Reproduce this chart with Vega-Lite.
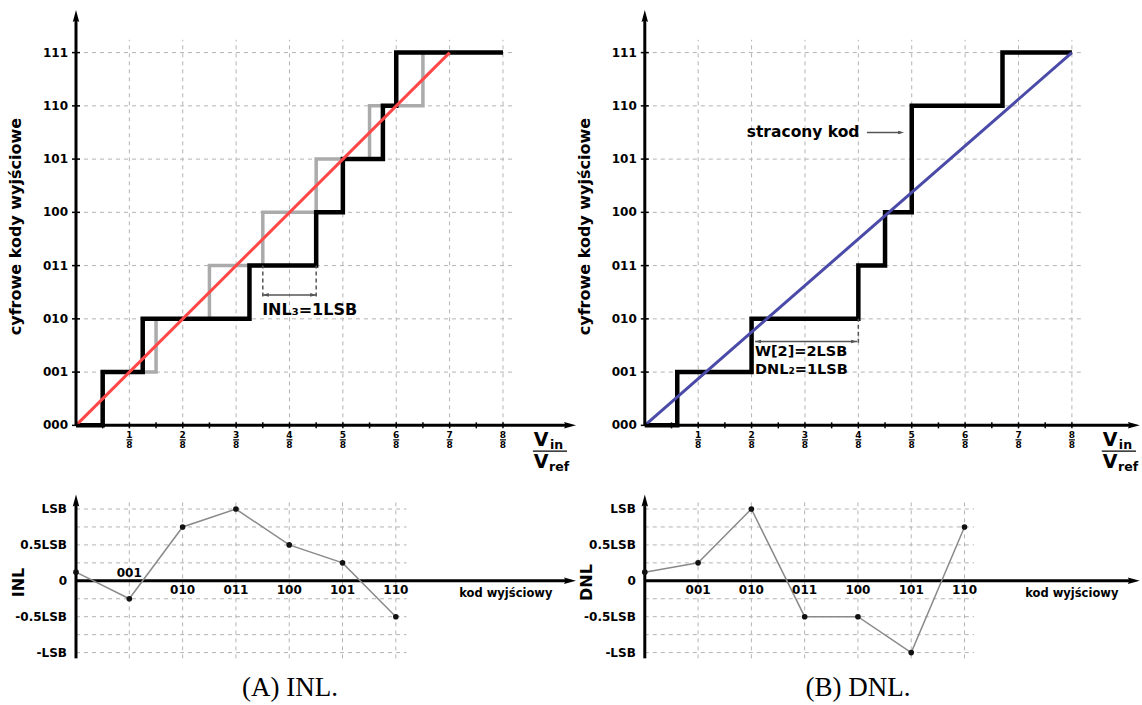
{
"$schema": "https://vega.github.io/schema/vega-lite/v6.json",
"padding": {"left": 8, "top": 9, "right": 0, "bottom": 0},
"background": "white",
"config": {"view": {"stroke": null}, "axis": {"disable": true}, "text": {"font": "DejaVu Sans", "fontWeight": "bold", "color": "#000"}},
"datasets": {
 "codes": [{"c":0,"label":"000"},{"c":1,"label":"001"},{"c":2,"label":"010"},{"c":3,"label":"011"},{"c":4,"label":"100"},{"c":5,"label":"101"},{"c":6,"label":"110"},{"c":7,"label":"111"}],
 "fractions": [{"v":0.125,"num":"1","den":"8"},{"v":0.25,"num":"2","den":"8"},{"v":0.375,"num":"3","den":"8"},{"v":0.5,"num":"4","den":"8"},{"v":0.625,"num":"5","den":"8"},{"v":0.75,"num":"6","den":"8"},{"v":0.875,"num":"7","den":"8"},{"v":1.0,"num":"8","den":"8"}],
 "sixteenths": [{"v":0.0625},{"v":0.125},{"v":0.1875},{"v":0.25},{"v":0.3125},{"v":0.375},{"v":0.4375},{"v":0.5},{"v":0.5625},{"v":0.625},{"v":0.6875},{"v":0.75},{"v":0.8125},{"v":0.875},{"v":0.9375},{"v":1.0}],
 "tl_ideal": [{"v":0,"c":0},{"v":0.0625,"c":1},{"v":0.1875,"c":2},{"v":0.3125,"c":3},{"v":0.4375,"c":4},{"v":0.5625,"c":5},{"v":0.6875,"c":6},{"v":0.8125,"c":7},{"v":0.875,"c":7}],
 "tl_actual": [{"v":0,"c":0},{"v":0.0625,"c":1},{"v":0.15625,"c":2},{"v":0.40625,"c":3},{"v":0.5625,"c":4},{"v":0.625,"c":5},{"v":0.71875,"c":6},{"v":0.75,"c":7},{"v":1.0,"c":7}],
 "tl_fit": [{"v":0,"c":0},{"v":0.875,"c":7}],
 "tr_actual": [{"v":0,"c":0},{"v":0.076,"c":1},{"v":0.25,"c":2},{"v":0.5,"c":3},{"v":0.5625,"c":4},{"v":0.625,"c":6},{"v":0.8375,"c":7},{"v":1.0,"c":7}],
 "tr_fit": [{"v":0,"c":0},{"v":1.0,"c":7}],
 "inl": [{"k":0,"code":"000","val":0.12},{"k":1,"code":"001","val":-0.25},{"k":2,"code":"010","val":0.75},{"k":3,"code":"011","val":1.0},{"k":4,"code":"100","val":0.5},{"k":5,"code":"101","val":0.25},{"k":6,"code":"110","val":-0.5}],
 "dnl": [{"k":0,"code":"000","val":0.12},{"k":1,"code":"001","val":0.25},{"k":2,"code":"010","val":1.0},{"k":3,"code":"011","val":-0.5},{"k":4,"code":"100","val":-0.5},{"k":5,"code":"101","val":-1.0},{"k":6,"code":"110","val":0.75}],
 "lsb_ticks": [{"e":1,"label":"LSB"},{"e":0.5,"label":"0.5LSB"},{"e":0,"label":"0"},{"e":-0.5,"label":"-0.5LSB"},{"e":-1,"label":"-LSB"}],
 "lsb_grid": [{"e":1},{"e":0.75},{"e":0.5},{"e":0.25},{"e":-0.25},{"e":-0.5},{"e":-0.75},{"e":-1}]
},
"columns": 2,
"bounds": "flush",
"spacing": {"row": 68.65, "column": 68.8},
"concat": [
 {
  "width": 500, "height": 415.35,
  "layer": [
   {"data":{"name":"codes"},"transform":[{"filter":"datum.c > 0"}],"mark":{"type":"rule","color":"#b3b3b3","strokeWidth":1,"strokeDash":[4,4]},
    "encoding":{"x":{"datum":0,"type":"quantitative","scale":{"domain":[0,1.171],"nice":false,"zero":false}},"x2":{"datum":1.03},"y":{"field":"c","type":"quantitative","scale":{"domain":[0,7.8],"nice":false,"zero":false}}}},
   {"data":{"name":"fractions"},"mark":{"type":"rule","color":"#b3b3b3","strokeWidth":1,"strokeDash":[4,4]},
    "encoding":{"x":{"field":"v","type":"quantitative"},"y":{"datum":0,"type":"quantitative"},"y2":{"datum":7.24}}},
   {"data":{"name":"tl_ideal"},"mark":{"type":"line","interpolate":"step-after","color":"#ababab","strokeWidth":3.5},
    "encoding":{"x":{"field":"v","type":"quantitative"},"y":{"field":"c","type":"quantitative"}}},
   {"data":{"name":"tl_actual"},"mark":{"type":"line","interpolate":"step-after","color":"#000","strokeWidth":4.5},
    "encoding":{"x":{"field":"v","type":"quantitative"},"y":{"field":"c","type":"quantitative"}}},
   {"data":{"name":"tl_fit"},"mark":{"type":"line","color":"#ff4747","strokeWidth":3},
    "encoding":{"x":{"field":"v","type":"quantitative"},"y":{"field":"c","type":"quantitative"}}},
   {"data":{"values":[{}]},"mark":{"type":"rule","color":"#000","strokeWidth":3},
    "encoding":{"x":{"datum":0,"type":"quantitative"},"y":{"datum":0,"type":"quantitative"},"y2":{"datum":7.65}}},
   {"data":{"values":[{}]},"mark":{"type":"rule","color":"#000","strokeWidth":3},
    "encoding":{"y":{"datum":0,"type":"quantitative"},"x":{"datum":0,"type":"quantitative"},"x2":{"datum":1.15}}},
   {"data":{"values":[{}]},"mark":{"type":"point","shape":"M0,-1L0.35,0.3L0,0.12L-0.35,0.3Z","size":340,"filled":true,"color":"#000","opacity":1},
    "encoding":{"x":{"datum":0,"type":"quantitative"},"y":{"datum":7.627,"type":"quantitative"}}},
   {"data":{"values":[{}]},"mark":{"type":"point","shape":"M1,0L-0.3,0.35L-0.12,0L-0.3,-0.35Z","size":340,"filled":true,"color":"#000","opacity":1},
    "encoding":{"x":{"datum":1.1495,"type":"quantitative"},"y":{"datum":0,"type":"quantitative"}}},
   {"data":{"name":"codes"},"mark":{"type":"tick","orient":"horizontal","size":8,"thickness":1.5,"color":"#000","opacity":1},
    "encoding":{"x":{"datum":0,"type":"quantitative"},"y":{"field":"c","type":"quantitative"}}},
   {"data":{"name":"sixteenths"},"mark":{"type":"tick","orient":"vertical","size":6,"thickness":1.5,"color":"#000","opacity":1},
    "encoding":{"x":{"field":"v","type":"quantitative"},"y":{"datum":0,"type":"quantitative"}}},
   {"data":{"name":"codes"},"mark":{"type":"text","align":"right","baseline":"middle","dx":-8,"fontSize":12},
    "encoding":{"x":{"datum":0,"type":"quantitative"},"y":{"field":"c","type":"quantitative"},"text":{"field":"label"}}},
   {"data":{"name":"fractions"},"mark":{"type":"text","align":"center","baseline":"middle","dy":10,"fontSize":9},
    "encoding":{"x":{"field":"v","type":"quantitative"},"y":{"datum":0,"type":"quantitative"},"text":{"field":"num"}}},
   {"data":{"name":"fractions"},"mark":{"type":"text","align":"center","baseline":"middle","dy":20,"fontSize":9},
    "encoding":{"x":{"field":"v","type":"quantitative"},"y":{"datum":0,"type":"quantitative"},"text":{"field":"den"}}},
   {"data":{"name":"fractions"},"mark":{"type":"tick","orient":"horizontal","size":6,"thickness":1.2,"color":"#000","opacity":1},
    "encoding":{"x":{"field":"v","type":"quantitative"},"y":{"datum":-0.2723,"type":"quantitative"}}},
   {"data":{"values":[{"t":"V"}]},"mark":{"type":"text","align":"left","baseline":"alphabetic","fontSize":19},
    "encoding":{"x":{"datum":1.072,"type":"quantitative"},"y":{"datum":-0.379,"type":"quantitative"},"text":{"field":"t"}}},
   {"data":{"values":[{"t":"in"}]},"mark":{"type":"text","align":"left","baseline":"alphabetic","fontSize":12.5},
    "encoding":{"x":{"datum":1.11,"type":"quantitative"},"y":{"datum":-0.436,"type":"quantitative"},"text":{"field":"t"}}},
   {"data":{"values":[{}]},"mark":{"type":"rule","color":"#000","strokeWidth":1.2},
    "encoding":{"y":{"datum":-0.483,"type":"quantitative"},"x":{"datum":1.07,"type":"quantitative"},"x2":{"datum":1.15}}},
   {"data":{"values":[{"t":"V"}]},"mark":{"type":"text","align":"left","baseline":"alphabetic","fontSize":19},
    "encoding":{"x":{"datum":1.072,"type":"quantitative"},"y":{"datum":-0.792,"type":"quantitative"},"text":{"field":"t"}}},
   {"data":{"values":[{"t":"ref"}]},"mark":{"type":"text","align":"left","baseline":"alphabetic","fontSize":12.5},
    "encoding":{"x":{"datum":1.108,"type":"quantitative"},"y":{"datum":-0.848,"type":"quantitative"},"text":{"field":"t"}}},
   {"data":{"values":[{"v":0.4375},{"v":0.5625}]},"mark":{"type":"rule","color":"#555","strokeWidth":1.5,"strokeDash":[4,3]},
    "encoding":{"x":{"field":"v","type":"quantitative"},"y":{"datum":2.42,"type":"quantitative"},"y2":{"datum":3}}},
   {"data":{"values":[{}]},"mark":{"type":"rule","color":"#555","strokeWidth":1.5},
    "encoding":{"y":{"datum":2.45,"type":"quantitative"},"x":{"datum":0.4375,"type":"quantitative"},"x2":{"datum":0.5625}}},
   {"data":{"values":[{}]},"mark":{"type":"point","shape":"M-1,0L1,0.6L1,-0.6Z","size":36,"filled":true,"color":"#555","opacity":1},
    "encoding":{"x":{"datum":0.4445,"type":"quantitative"},"y":{"datum":2.45,"type":"quantitative"}}},
   {"data":{"values":[{}]},"mark":{"type":"point","shape":"M1,0L-1,0.6L-1,-0.6Z","size":36,"filled":true,"color":"#555","opacity":1},
    "encoding":{"x":{"datum":0.5555,"type":"quantitative"},"y":{"datum":2.45,"type":"quantitative"}}},
   {"data":{"values":[{"t":"INL₃=1LSB"}]},"mark":{"type":"text","align":"left","baseline":"alphabetic","fontSize":16},
    "encoding":{"x":{"datum":0.436,"type":"quantitative"},"y":{"datum":2.08,"type":"quantitative"},"text":{"field":"t"}}},
   {"data":{"values":[{"t":"cyfrowe kody wyjściowe"}]},"mark":{"type":"text","angle":270,"align":"center","baseline":"middle","fontSize":16},
    "encoding":{"x":{"datum":-0.1405,"type":"quantitative"},"y":{"datum":3.733,"type":"quantitative"},"text":{"field":"t"}}}
  ]
 },
 {
  "width": 495, "height": 415.35,
  "layer": [
   {"data":{"name":"codes"},"transform":[{"filter":"datum.c > 0"}],"mark":{"type":"rule","color":"#b3b3b3","strokeWidth":1,"strokeDash":[4,4]},
    "encoding":{"x":{"datum":0,"type":"quantitative","scale":{"domain":[0,1.159],"nice":false,"zero":false}},"x2":{"datum":1.03},"y":{"field":"c","type":"quantitative","scale":{"domain":[0,7.8],"nice":false,"zero":false}}}},
   {"data":{"name":"fractions"},"mark":{"type":"rule","color":"#b3b3b3","strokeWidth":1,"strokeDash":[4,4]},
    "encoding":{"x":{"field":"v","type":"quantitative"},"y":{"datum":0,"type":"quantitative"},"y2":{"datum":7.24}}},
   {"data":{"name":"tr_actual"},"mark":{"type":"line","interpolate":"step-after","color":"#000","strokeWidth":4.5},
    "encoding":{"x":{"field":"v","type":"quantitative"},"y":{"field":"c","type":"quantitative"}}},
   {"data":{"name":"tr_fit"},"mark":{"type":"line","color":"#4a4aa8","strokeWidth":3},
    "encoding":{"x":{"field":"v","type":"quantitative"},"y":{"field":"c","type":"quantitative"}}},
   {"data":{"values":[{}]},"mark":{"type":"rule","color":"#000","strokeWidth":3},
    "encoding":{"x":{"datum":0,"type":"quantitative"},"y":{"datum":0,"type":"quantitative"},"y2":{"datum":7.65}}},
   {"data":{"values":[{}]},"mark":{"type":"rule","color":"#000","strokeWidth":3},
    "encoding":{"y":{"datum":0,"type":"quantitative"},"x":{"datum":0,"type":"quantitative"},"x2":{"datum":1.138}}},
   {"data":{"values":[{}]},"mark":{"type":"point","shape":"M0,-1L0.35,0.3L0,0.12L-0.35,0.3Z","size":340,"filled":true,"color":"#000","opacity":1},
    "encoding":{"x":{"datum":0,"type":"quantitative"},"y":{"datum":7.627,"type":"quantitative"}}},
   {"data":{"values":[{}]},"mark":{"type":"point","shape":"M1,0L-0.3,0.35L-0.12,0L-0.3,-0.35Z","size":340,"filled":true,"color":"#000","opacity":1},
    "encoding":{"x":{"datum":1.1375,"type":"quantitative"},"y":{"datum":0,"type":"quantitative"}}},
   {"data":{"name":"codes"},"mark":{"type":"tick","orient":"horizontal","size":8,"thickness":1.5,"color":"#000","opacity":1},
    "encoding":{"x":{"datum":0,"type":"quantitative"},"y":{"field":"c","type":"quantitative"}}},
   {"data":{"name":"sixteenths"},"mark":{"type":"tick","orient":"vertical","size":6,"thickness":1.5,"color":"#000","opacity":1},
    "encoding":{"x":{"field":"v","type":"quantitative"},"y":{"datum":0,"type":"quantitative"}}},
   {"data":{"name":"codes"},"mark":{"type":"text","align":"right","baseline":"middle","dx":-8,"fontSize":12},
    "encoding":{"x":{"datum":0,"type":"quantitative"},"y":{"field":"c","type":"quantitative"},"text":{"field":"label"}}},
   {"data":{"name":"fractions"},"mark":{"type":"text","align":"center","baseline":"middle","dy":10,"fontSize":9},
    "encoding":{"x":{"field":"v","type":"quantitative"},"y":{"datum":0,"type":"quantitative"},"text":{"field":"num"}}},
   {"data":{"name":"fractions"},"mark":{"type":"text","align":"center","baseline":"middle","dy":20,"fontSize":9},
    "encoding":{"x":{"field":"v","type":"quantitative"},"y":{"datum":0,"type":"quantitative"},"text":{"field":"den"}}},
   {"data":{"name":"fractions"},"mark":{"type":"tick","orient":"horizontal","size":6,"thickness":1.2,"color":"#000","opacity":1},
    "encoding":{"x":{"field":"v","type":"quantitative"},"y":{"datum":-0.2723,"type":"quantitative"}}},
   {"data":{"values":[{"t":"V"}]},"mark":{"type":"text","align":"left","baseline":"alphabetic","fontSize":19},
    "encoding":{"x":{"datum":1.072,"type":"quantitative"},"y":{"datum":-0.379,"type":"quantitative"},"text":{"field":"t"}}},
   {"data":{"values":[{"t":"in"}]},"mark":{"type":"text","align":"left","baseline":"alphabetic","fontSize":12.5},
    "encoding":{"x":{"datum":1.11,"type":"quantitative"},"y":{"datum":-0.436,"type":"quantitative"},"text":{"field":"t"}}},
   {"data":{"values":[{}]},"mark":{"type":"rule","color":"#000","strokeWidth":1.2},
    "encoding":{"y":{"datum":-0.483,"type":"quantitative"},"x":{"datum":1.07,"type":"quantitative"},"x2":{"datum":1.15}}},
   {"data":{"values":[{"t":"V"}]},"mark":{"type":"text","align":"left","baseline":"alphabetic","fontSize":19},
    "encoding":{"x":{"datum":1.072,"type":"quantitative"},"y":{"datum":-0.792,"type":"quantitative"},"text":{"field":"t"}}},
   {"data":{"values":[{"t":"ref"}]},"mark":{"type":"text","align":"left","baseline":"alphabetic","fontSize":12.5},
    "encoding":{"x":{"datum":1.108,"type":"quantitative"},"y":{"datum":-0.848,"type":"quantitative"},"text":{"field":"t"}}},
   {"data":{"values":[{}]},"mark":{"type":"rule","color":"#555","strokeWidth":1.5,"strokeDash":[4,3]},
    "encoding":{"x":{"datum":0.5,"type":"quantitative"},"y":{"datum":1.55,"type":"quantitative"},"y2":{"datum":2}}},
   {"data":{"values":[{}]},"mark":{"type":"rule","color":"#555","strokeWidth":1.5},
    "encoding":{"y":{"datum":1.574,"type":"quantitative"},"x":{"datum":0.258,"type":"quantitative"},"x2":{"datum":0.497}}},
   {"data":{"values":[{}]},"mark":{"type":"point","shape":"M-1,0L1,0.6L1,-0.6Z","size":36,"filled":true,"color":"#555","opacity":1},
    "encoding":{"x":{"datum":0.265,"type":"quantitative"},"y":{"datum":1.574,"type":"quantitative"}}},
   {"data":{"values":[{}]},"mark":{"type":"point","shape":"M1,0L-1,0.6L-1,-0.6Z","size":36,"filled":true,"color":"#555","opacity":1},
    "encoding":{"x":{"datum":0.49,"type":"quantitative"},"y":{"datum":1.574,"type":"quantitative"}}},
   {"data":{"values":[{"t":"W[2]=2LSB"}]},"mark":{"type":"text","align":"left","baseline":"alphabetic","fontSize":14.5},
    "encoding":{"x":{"datum":0.258,"type":"quantitative"},"y":{"datum":1.301,"type":"quantitative"},"text":{"field":"t"}}},
   {"data":{"values":[{"t":"DNL₂=1LSB"}]},"mark":{"type":"text","align":"left","baseline":"alphabetic","fontSize":14.5},
    "encoding":{"x":{"datum":0.258,"type":"quantitative"},"y":{"datum":0.96,"type":"quantitative"},"text":{"field":"t"}}},
   {"data":{"values":[{"t":"stracony kod"}]},"mark":{"type":"text","align":"left","baseline":"alphabetic","fontSize":15.5},
    "encoding":{"x":{"datum":0.2386,"type":"quantitative"},"y":{"datum":5.41,"type":"quantitative"},"text":{"field":"t"}}},
   {"data":{"values":[{}]},"mark":{"type":"rule","color":"#555","strokeWidth":1.5},
    "encoding":{"y":{"datum":5.499,"type":"quantitative"},"x":{"datum":0.52,"type":"quantitative"},"x2":{"datum":0.6}}},
   {"data":{"values":[{}]},"mark":{"type":"point","shape":"M1,0L-1,0.6L-1,-0.6Z","size":36,"filled":true,"color":"#555","opacity":1},
    "encoding":{"x":{"datum":0.6,"type":"quantitative"},"y":{"datum":5.499,"type":"quantitative"}}},
   {"data":{"values":[{"t":"cyfrowe kody wyjściowe"}]},"mark":{"type":"text","angle":270,"align":"center","baseline":"middle","fontSize":16},
    "encoding":{"x":{"datum":-0.1405,"type":"quantitative"},"y":{"datum":3.733,"type":"quantitative"},"text":{"field":"t"}}}
  ]
 },
 {
  "width": 500, "height": 163.7,
  "layer": [
   {"data":{"name":"lsb_grid"},"mark":{"type":"rule","color":"#b3b3b3","strokeWidth":1,"strokeDash":[4,4]},
    "encoding":{"x":{"datum":0,"type":"quantitative","scale":{"domain":[0,9.38],"nice":false,"zero":false}},"x2":{"datum":6.2},"y":{"field":"e","type":"quantitative","scale":{"domain":[-1.08,1.2],"nice":false,"zero":false}}}},
   {"data":{"name":"inl"},"transform":[{"filter":"datum.k > 0"}],"mark":{"type":"rule","color":"#b3b3b3","strokeWidth":1,"strokeDash":[4,4]},
    "encoding":{"x":{"field":"k","type":"quantitative"},"y":{"datum":-1.08,"type":"quantitative"},"y2":{"datum":1.1}}},
   {"data":{"values":[{}]},"mark":{"type":"rule","color":"#000","strokeWidth":3},
    "encoding":{"x":{"datum":0,"type":"quantitative"},"y":{"datum":-1.08,"type":"quantitative"},"y2":{"datum":1.09}}},
   {"data":{"values":[{}]},"mark":{"type":"rule","color":"#000","strokeWidth":3},
    "encoding":{"y":{"datum":0,"type":"quantitative"},"x":{"datum":0,"type":"quantitative"},"x2":{"datum":9.2}}},
   {"data":{"values":[{}]},"mark":{"type":"point","shape":"M0,-1L0.35,0.3L0,0.12L-0.35,0.3Z","size":340,"filled":true,"color":"#000","opacity":1},
    "encoding":{"x":{"datum":0,"type":"quantitative"},"y":{"datum":1.072,"type":"quantitative"}}},
   {"data":{"values":[{}]},"mark":{"type":"point","shape":"M1,0L-0.3,0.35L-0.12,0L-0.3,-0.35Z","size":340,"filled":true,"color":"#000","opacity":1},
    "encoding":{"x":{"datum":9.207,"type":"quantitative"},"y":{"datum":0,"type":"quantitative"}}},
   {"data":{"name":"lsb_ticks"},"mark":{"type":"text","align":"right","baseline":"middle","dx":-9,"fontSize":12},
    "encoding":{"x":{"datum":0,"type":"quantitative"},"y":{"field":"e","type":"quantitative"},"text":{"field":"label"}}},
   {"data":{"name":"inl"},"mark":{"type":"line","color":"#8a8a8a","strokeWidth":1.5},
    "encoding":{"x":{"field":"k","type":"quantitative"},"y":{"field":"val","type":"quantitative"}}},
   {"data":{"name":"inl"},"mark":{"type":"point","filled":true,"size":32,"color":"#111","opacity":1},
    "encoding":{"x":{"field":"k","type":"quantitative"},"y":{"field":"val","type":"quantitative"}}},
   {"data":{"name":"inl"},"transform":[{"filter":"datum.k == 1"}],"mark":{"type":"text","align":"center","baseline":"alphabetic","dy":-4,"fontSize":12},
    "encoding":{"x":{"field":"k","type":"quantitative"},"y":{"datum":0,"type":"quantitative"},"text":{"field":"code"}}},
   {"data":{"name":"inl"},"transform":[{"filter":"datum.k > 1"}],"mark":{"type":"text","align":"center","baseline":"alphabetic","dy":13.5,"fontSize":12},
    "encoding":{"x":{"field":"k","type":"quantitative"},"y":{"datum":0,"type":"quantitative"},"text":{"field":"code"}}},
   {"data":{"values":[{"t":"kod wyjściowy"}]},"mark":{"type":"text","align":"left","baseline":"alphabetic","fontSize":11.5},
    "encoding":{"x":{"datum":7.19,"type":"quantitative"},"y":{"datum":-0.22,"type":"quantitative"},"text":{"field":"t"}}},
   {"data":{"values":[{"t":"INL"}]},"mark":{"type":"text","angle":270,"align":"center","baseline":"middle","fontSize":16},
    "encoding":{"x":{"datum":-1.064,"type":"quantitative"},"y":{"datum":-0.024,"type":"quantitative"},"text":{"field":"t"}}},
   {"data":{"values":[{"t":"(A) INL."}]},"mark":{"type":"text","align":"center","baseline":"alphabetic","fontSize":27,"font":"Liberation Serif","fontWeight":"normal"},
    "encoding":{"x":{"datum":4.015,"type":"quantitative"},"y":{"datum":-1.611,"type":"quantitative"},"text":{"field":"t"}}}
  ]
 },
 {
  "width": 495, "height": 163.7,
  "layer": [
   {"data":{"name":"lsb_grid"},"mark":{"type":"rule","color":"#b3b3b3","strokeWidth":1,"strokeDash":[4,4]},
    "encoding":{"x":{"datum":0,"type":"quantitative","scale":{"domain":[0,9.29],"nice":false,"zero":false}},"x2":{"datum":6.18},"y":{"field":"e","type":"quantitative","scale":{"domain":[-1.08,1.2],"nice":false,"zero":false}}}},
   {"data":{"name":"dnl"},"transform":[{"filter":"datum.k > 0"}],"mark":{"type":"rule","color":"#b3b3b3","strokeWidth":1,"strokeDash":[4,4]},
    "encoding":{"x":{"field":"k","type":"quantitative"},"y":{"datum":-1.08,"type":"quantitative"},"y2":{"datum":1.1}}},
   {"data":{"values":[{}]},"mark":{"type":"rule","color":"#000","strokeWidth":3},
    "encoding":{"x":{"datum":0,"type":"quantitative"},"y":{"datum":-1.08,"type":"quantitative"},"y2":{"datum":1.09}}},
   {"data":{"values":[{}]},"mark":{"type":"rule","color":"#000","strokeWidth":3},
    "encoding":{"y":{"datum":0,"type":"quantitative"},"x":{"datum":0,"type":"quantitative"},"x2":{"datum":9.12}}},
   {"data":{"values":[{}]},"mark":{"type":"point","shape":"M0,-1L0.35,0.3L0,0.12L-0.35,0.3Z","size":340,"filled":true,"color":"#000","opacity":1},
    "encoding":{"x":{"datum":0,"type":"quantitative"},"y":{"datum":1.072,"type":"quantitative"}}},
   {"data":{"values":[{}]},"mark":{"type":"point","shape":"M1,0L-0.3,0.35L-0.12,0L-0.3,-0.35Z","size":340,"filled":true,"color":"#000","opacity":1},
    "encoding":{"x":{"datum":9.117,"type":"quantitative"},"y":{"datum":0,"type":"quantitative"}}},
   {"data":{"name":"lsb_ticks"},"mark":{"type":"text","align":"right","baseline":"middle","dx":-9,"fontSize":12},
    "encoding":{"x":{"datum":0,"type":"quantitative"},"y":{"field":"e","type":"quantitative"},"text":{"field":"label"}}},
   {"data":{"name":"dnl"},"mark":{"type":"line","color":"#8a8a8a","strokeWidth":1.5},
    "encoding":{"x":{"field":"k","type":"quantitative"},"y":{"field":"val","type":"quantitative"}}},
   {"data":{"name":"dnl"},"mark":{"type":"point","filled":true,"size":32,"color":"#111","opacity":1},
    "encoding":{"x":{"field":"k","type":"quantitative"},"y":{"field":"val","type":"quantitative"}}},
   {"data":{"name":"dnl"},"transform":[{"filter":"datum.k > 0"}],"mark":{"type":"text","align":"center","baseline":"alphabetic","dy":13.5,"fontSize":12},
    "encoding":{"x":{"field":"k","type":"quantitative"},"y":{"datum":0,"type":"quantitative"},"text":{"field":"code"}}},
   {"data":{"values":[{"t":"kod wyjściowy"}]},"mark":{"type":"text","align":"left","baseline":"alphabetic","fontSize":11.5},
    "encoding":{"x":{"datum":7.14,"type":"quantitative"},"y":{"datum":-0.22,"type":"quantitative"},"text":{"field":"t"}}},
   {"data":{"values":[{"t":"DNL"}]},"mark":{"type":"text","angle":270,"align":"center","baseline":"middle","fontSize":16},
    "encoding":{"x":{"datum":-1.08,"type":"quantitative"},"y":{"datum":-0.024,"type":"quantitative"},"text":{"field":"t"}}},
   {"data":{"values":[{"t":"(B) DNL."}]},"mark":{"type":"text","align":"center","baseline":"alphabetic","fontSize":27,"font":"Liberation Serif","fontWeight":"normal"},
    "encoding":{"x":{"datum":4.0,"type":"quantitative"},"y":{"datum":-1.611,"type":"quantitative"},"text":{"field":"t"}}}
  ]
 }
]
}
